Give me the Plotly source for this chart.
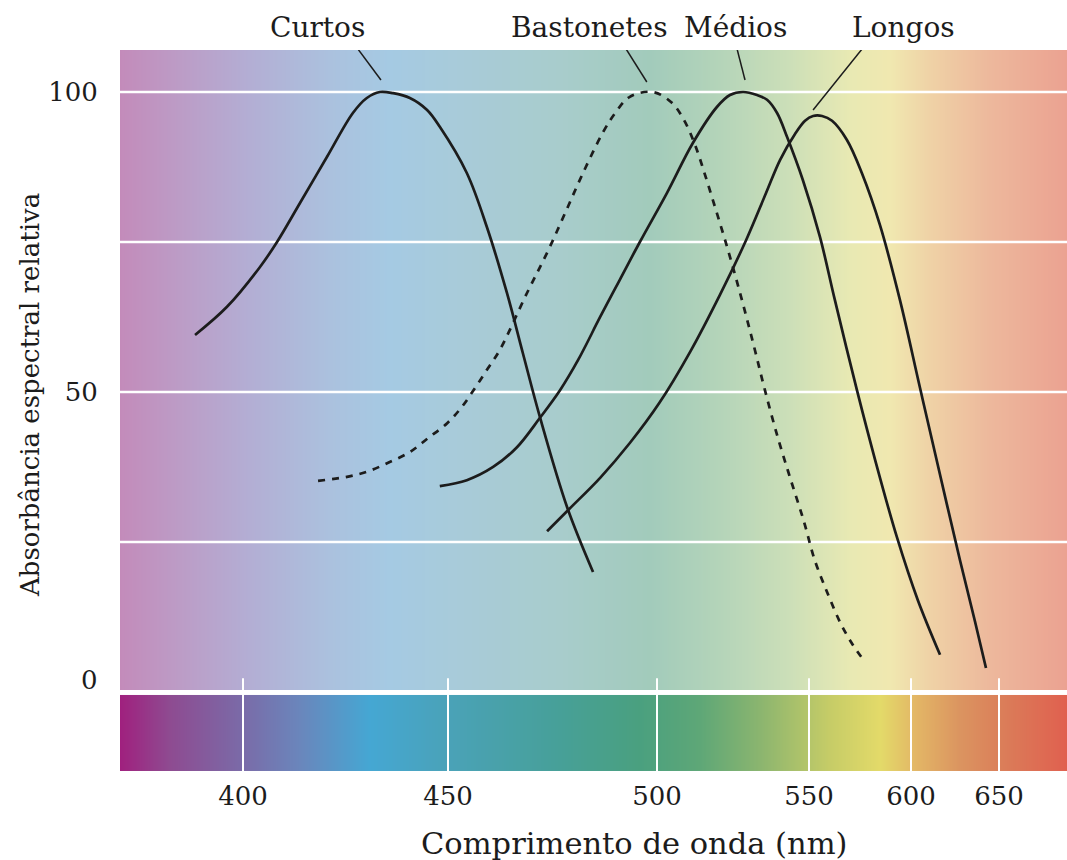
import numpy as np
import plotly.graph_objects as go

# ---------------- data ----------------
# non-uniform wavelength scale of the figure
tick_nm = [400, 450, 500, 550, 600, 650]
tick_labels = ["400", "450", "500", "550", "600", "650"]
scale_nm = [370.0, 400, 450, 500, 550, 600, 650, 688.6]
scale_pos = [120, 243, 448, 657, 809, 911, 999, 1067]

y_tick_vals = [50, 100]
y_grid_vals = [25, 50, 75, 100]

curtos_nm = [388.3, 396.1, 404.1, 408.3, 413.9, 420.5, 426.8, 430.2, 433.4, 436.6,
             440.7, 444.9, 448.0, 454.5, 459.3, 464.1, 467.9, 472.0, 478.5, 484.7]
curtos_abs = [59.5, 64.2, 70.8, 75.0, 81.5, 89.2, 96.5, 99.0, 100.0, 99.8,
              99.0, 97.0, 94.2, 86.5, 77.5, 66.5, 56.5, 45.8, 30.8, 20.0]

bast_nm = [418.3, 424.9, 430.2, 435.4, 440.7, 445.1, 449.8, 453.3, 456.5, 459.6,
           462.4, 468.9, 473.7, 478.0, 482.3, 487.1, 490.0, 493.5, 499.0, 504.9,
           508.9, 512.5, 515.8, 519.1, 522.4, 525.7, 529.0, 532.2, 535.5, 539.8,
           544.1, 548.4, 552.8, 559.3, 565.7, 571.6, 577.5]
bast_abs = [35.2, 35.8, 36.7, 38.2, 40.0, 42.3, 44.8, 47.5, 50.7, 54.0,
            57.0, 66.5, 73.2, 79.8, 86.5, 93.3, 96.5, 99.2, 100.0, 98.2,
            95.3, 91.2, 86.2, 80.8, 75.3, 69.5, 63.3, 57.0, 50.3, 42.3,
            35.2, 28.3, 22.0, 16.3, 11.3, 7.8, 5.0]

medios_nm = [448.0, 454.5, 460.8, 466.5, 472.0, 476.8, 481.1, 486.4, 491.1, 495.9,
             503.3, 511.8, 519.7, 524.0, 528.3, 532.9, 536.2, 539.5, 542.8, 548.0,
             555.4, 562.7, 573.5, 582.4, 593.1, 603.9, 616.5]
medios_abs = [34.3, 35.3, 37.5, 40.8, 45.7, 50.3, 55.3, 62.5, 68.7, 75.0,
              83.2, 91.5, 97.5, 99.5, 100.0, 99.5, 98.7, 96.5, 92.5, 85.3,
              75.8, 65.3, 50.3, 38.7, 25.8, 15.3, 6.2]

longos_nm = [473.7, 479.0, 486.4, 493.5, 500.8, 510.9, 520.7, 529.3, 535.9, 540.5,
             545.4, 548.7, 552.0, 556.4, 561.3, 568.6, 575.9, 584.8, 594.6, 605.1,
             616.5, 627.8, 636.4, 642.6]
longos_abs = [26.8, 30.5, 35.7, 41.5, 48.2, 56.7, 66.2, 75.3, 83.2, 88.7,
              93.0, 95.2, 96.0, 96.0, 95.2, 92.0, 86.5, 77.8, 65.3, 50.7,
              36.2, 22.0, 11.7, 4.0]

series_names = ["Curtos", "Bastonetes", "Médios", "Longos"]

# ---------------- helpers / styles ----------------
def warp(nm):
    return np.interp(np.asarray(nm, dtype=float), scale_nm, scale_pos)

X0, X1 = scale_pos[0], scale_pos[-1]
Y_TOP, Y_BOT = 107.0, -13.17
FONT = "DejaVu Serif"
INK = "#1c1c1c"

pale_stops = [(120, "#C38BBA"), (180, "#BC9CC6"), (250, "#B3AED4"), (330, "#ABC1DE"),
              (390, "#A5CAE3"), (460, "#A8CBD9"), (560, "#A8CCCC"), (650, "#A2CBBB"),
              (720, "#B4D4B9"), (790, "#CCDFB8"), (850, "#E8E9B3"), (890, "#F0E8B0"),
              (930, "#EFD2A6"), (990, "#EDB89C"), (1067, "#EBA291")]
bar_stops = [(120, "#A0207E"), (170, "#8E4B91"), (243, "#7A6BA8"), (300, "#6A86BC"),
             (370, "#45A7D3"), (448, "#4AA2B8"), (560, "#47A098"), (640, "#4AA07F"),
             (700, "#5EA777"), (760, "#8BB56F"), (830, "#C6CC67"), (880, "#E3DA69"),
             (915, "#E3B766"), (960, "#DB9460"), (1010, "#DB7A58"), (1067, "#E0604F")]

def cscale(stops):
    return [[(p - X0) / (X1 - X0), c] for p, c in stops]

xedges = np.arange(X0, X1 + 1, 1.0)
xcent = (xedges[:-1] + xedges[1:]) / 2

fig = go.Figure()

# background gradient (pale) and spectrum bar
fig.add_trace(go.Heatmap(x=xedges, y=[0.35, Y_TOP], z=[xcent], colorscale=cscale(pale_stops),
                         zmin=X0, zmax=X1, showscale=False, hoverinfo="skip"))
fig.add_trace(go.Heatmap(x=xedges, y=[Y_BOT, -0.5], z=[xcent], colorscale=cscale(bar_stops),
                         zmin=X0, zmax=X1, showscale=False, hoverinfo="skip"))

# white gridlines
gx, gy = [], []
for g in y_grid_vals:
    gx += [X0, X1, None]
    gy += [g, g, None]
fig.add_trace(go.Scatter(x=gx, y=gy, mode="lines", line=dict(color="white", width=2.5),
                         hoverinfo="skip", showlegend=False))
# white tick marks through the spectrum bar
tx, ty = [], []
for t in warp(tick_nm):
    tx += [t, t, None]
    ty += [Y_BOT, 2.3, None]
fig.add_trace(go.Scatter(x=tx, y=ty, mode="lines", line=dict(color="white", width=2),
                         hoverinfo="skip", showlegend=False))

curves = [(curtos_nm, curtos_abs, "solid"), (bast_nm, bast_abs, "7px,7px"),
          (medios_nm, medios_abs, "solid"), (longos_nm, longos_abs, "solid")]
for name, (nm, ab, dash) in zip(series_names, curves):
    fig.add_trace(go.Scatter(x=warp(nm), y=ab, mode="lines", name=name,
                             line=dict(color=INK, width=2.7, dash=dash, shape="spline", smoothing=1.0),
                             showlegend=False))

# curve labels with leader lines
label_shift = [-62, -63, -8, 90]
leader = [(1, 12, -25, 47), (-6, 10, -28, 45), (2, 12, -7, 47), (0, 6, 53, 72)]
shapes = []
annotations = []
for name, (nm, ab, _), dx, (ax0, ay0, ax1, ay1) in zip(series_names, curves, label_shift, leader):
    i = int(np.argmax(ab))
    px, py = float(warp(nm[i])), ab[i]
    shapes.append(dict(type="line", xref="x", yref="y", xsizemode="pixel", ysizemode="pixel",
                       xanchor=px, yanchor=py, x0=ax0, y0=ay0, x1=ax1, y1=ay1,
                       line=dict(color=INK, width=1.5)))
    annotations.append(dict(text=name, x=px, xref="x", y=1, yref="paper", xshift=dx, yshift=23,
                            xanchor="center", yanchor="middle", showarrow=False,
                            font=dict(family=FONT, size=28, color=INK)))

# "0" label (sits slightly above the baseline in the original)
annotations.append(dict(text="0", x=0, xref="paper", y=0, yref="y", xanchor="right", yanchor="middle",
                        xshift=-20, yshift=12, showarrow=False, font=dict(family=FONT, size=26, color=INK)))
# axis titles
annotations.append(dict(text="Comprimento de onda (nm)", x=0.543, xref="paper", y=-0.1, yref="paper",
                        xanchor="center", yanchor="middle", showarrow=False,
                        font=dict(family=FONT, size=30.5, color=INK)))
annotations.append(dict(text="Absorbância espectral relativa", x=-0.095, xref="paper", y=0.5215, yref="paper",
                        xanchor="center", yanchor="middle", textangle=-90, showarrow=False,
                        font=dict(family=FONT, size=26, color=INK)))

fig.update_layout(
    width=1067, height=860,
    margin=dict(l=120, r=0, t=50, b=89),
    paper_bgcolor="white", plot_bgcolor="white",
    showlegend=False, hovermode=False,
    shapes=shapes, annotations=annotations,
    xaxis=dict(range=[X0, X1], tickvals=warp(tick_nm), ticktext=tick_labels,
               showgrid=False, zeroline=False, showline=False, fixedrange=True,
               ticks="outside", ticklen=2, tickcolor="rgba(0,0,0,0)",
               tickfont=dict(family=FONT, size=26, color=INK)),
    yaxis=dict(range=[Y_BOT, Y_TOP], tickvals=y_tick_vals, ticktext=[str(v) for v in y_tick_vals],
               showgrid=False, zeroline=False, showline=False, fixedrange=True,
               ticks="outside", ticklen=16, tickcolor="rgba(0,0,0,0)",
               tickfont=dict(family=FONT, size=26, color=INK)),
)

fig.write_html("out.html", config={"displayModeBar": False, "staticPlot": True},
               post_script="document.body.style.margin='0';document.body.style.overflow='hidden';"
                           "document.documentElement.style.overflow='hidden';")
